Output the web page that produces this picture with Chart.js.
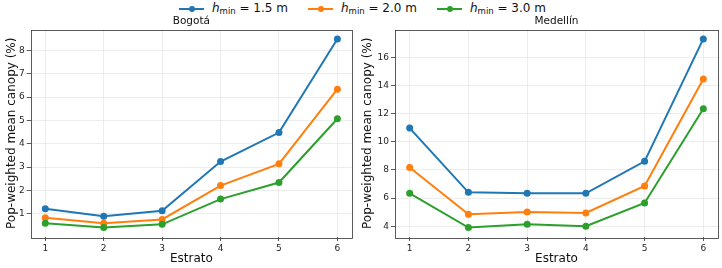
<!DOCTYPE html>
<html>
<head>
<meta charset="utf-8">
<script src="https://cdn.jsdelivr.net/npm/chart.js@4.4.1/dist/chart.umd.min.js"></script>
<style>
  html, body { margin: 0; padding: 0; background: #fff; }
  body { width: 722px; height: 268px; position: relative; overflow: hidden; font-family: "DejaVu Sans", sans-serif; }
  canvas { position: absolute; top: 0; }
  #cvBog { left: 0; }
  #cvMed { left: 356px; }
  .lg { position: absolute; top: 0; height: 18px; font-size: 12px; color: #111; white-space: nowrap; }
  .lg .hd { position: absolute; left: 0; top: 8px; width: 25px; height: 2px; }
  .lg .hd b { position: absolute; left: 10px; top: -2px; width: 6px; height: 6px; border-radius: 50%; background: inherit; }
  .lg .tx { position: absolute; left: 33px; top: 1px; line-height: 14px; }
  .lg sub { font-size: 8.5px; vertical-align: -2px; line-height: 0; }
</style>
</head>
<body>
<div id="legend"></div>
<canvas id="cvBog" width="356" height="268"></canvas>
<canvas id="cvMed" width="366" height="268"></canvas>
<script>
(function() {
  'use strict';

  // ---- data ----
  var estrato = [1, 2, 3, 4, 5, 6];
  var hMin = ['1.5', '2.0', '3.0'];
  var colors = ['#1f77b4', '#ff7f0e', '#2ca02c'];

  var bogota15 = [1.22, 0.89, 1.13, 3.24, 4.48, 8.49];
  var bogota20 = [0.83, 0.59, 0.76, 2.21, 3.14, 6.34];
  var bogota30 = [0.59, 0.41, 0.55, 1.63, 2.34, 5.07];

  var medellin15 = [10.97, 6.41, 6.34, 6.34, 8.61, 17.30];
  var medellin20 = [8.18, 4.85, 5.02, 4.95, 6.86, 14.46];
  var medellin30 = [6.34, 3.91, 4.15, 4.00, 5.66, 12.34];

  var xTicks = [1, 2, 3, 4, 5, 6];
  var bogotaTicks = [1, 2, 3, 4, 5, 6, 7, 8];
  var medellinTicks = [4, 6, 8, 10, 12, 14, 16];

  // ---- legend (html, so the subscript stays real text) ----
  var lgLeft = [179, 308, 437];
  document.getElementById('legend').innerHTML = hMin.map(function(h, i) {
    return '<div class="lg" style="left:' + lgLeft[i] + 'px"><span class="hd" style="background:' + colors[i] + '"><b></b></span>' +
      '<span class="tx"><i>h</i><sub>min</sub> = ' + h + ' m</span></div>';
  }).join('');

  function pts(vals) { return vals.map(function(v, i) { return { x: estrato[i], y: v }; }); }

  function dataRange(series) {
    var all = [].concat.apply([], series);
    var lo = Math.min.apply(null, all), hi = Math.max.apply(null, all), m = (hi - lo) * 0.05;
    return { min: lo - m, max: hi + m };
  }

  // spines on all four sides
  var frame = {
    id: 'frame',
    afterDatasetsDraw: function(chart) {
      var a = chart.chartArea, c = chart.ctx;
      c.save(); c.strokeStyle = '#333'; c.lineWidth = 0.8;
      c.strokeRect(Math.round(a.left) + 0.5, Math.round(a.top) + 0.5, Math.round(a.right - a.left), Math.round(a.bottom - a.top));
      c.restore();
    }
  };

  function makeChart(id, title, series, yTicks, yWidth, padRight) {
    var r = dataRange(series);
    return new Chart(document.getElementById(id), {
      type: 'line',
      data: {
        datasets: series.map(function(s, i) {
          return { label: hMin[i], data: pts(s), borderColor: colors[i], backgroundColor: colors[i],
            pointBackgroundColor: colors[i], pointBorderWidth: 0, pointRadius: 3.5, borderWidth: 2,
            tension: 0, order: 3 - i };
        })
      },
      options: {
        responsive: false, animation: false, events: [],
        layout: { padding: { left: 0, right: padRight, top: 0, bottom: 0 } },
        plugins: {
          legend: { display: false }, tooltip: { enabled: false },
          title: { display: true, text: title, fullSize: false, color: '#111',
            font: { family: 'DejaVu Sans', size: 10.5, weight: 'normal' }, padding: { top: 15, bottom: 1.9 } }
        },
        scales: {
          x: {
            type: 'linear', min: 0.75, max: 6.25,
            afterBuildTicks: function(s) { s.ticks = xTicks.map(function(v) { return { value: v }; }); },
            afterFit: function(s) { s.height = 31; },
            ticks: { color: '#262626', font: { family: 'DejaVu Sans', size: 9 }, padding: 2, maxRotation: 0 },
            grid: { color: '#e8e8e8', lineWidth: 0.8, tickColor: '#333', tickLength: 4, tickWidth: 0.8 },
            border: { display: false },
            title: { display: true, text: 'Estrato', color: '#111', font: { family: 'DejaVu Sans', size: 12 }, padding: { top: 0, bottom: 1.8 } }
          },
          y: {
            type: 'linear', min: r.min, max: r.max,
            afterBuildTicks: function(s) { s.ticks = yTicks.map(function(v) { return { value: v }; }); },
            afterFit: function(s) { s.width = yWidth; },
            ticks: { color: '#262626', font: { family: 'DejaVu Sans', size: 9 }, padding: 2 },
            grid: { color: '#e8e8e8', lineWidth: 0.8, tickColor: '#333', tickLength: 4, tickWidth: 0.8 },
            border: { display: false },
            title: { display: true, text: 'Pop-weighted mean canopy (%)', color: '#111', font: { family: 'DejaVu Sans', size: 12 }, padding: { top: 4.8, bottom: 0 } }
          }
        }
      },
      plugins: [frame]
    });
  }

  makeChart('cvBog', 'Bogotá', [bogota15, bogota20, bogota30], bogotaTicks, 30.7, 2);
  makeChart('cvMed', 'Medellín', [medellin15, medellin20, medellin30], medellinTicks, 39, 1.3);
})();
</script>
</body>
</html>
